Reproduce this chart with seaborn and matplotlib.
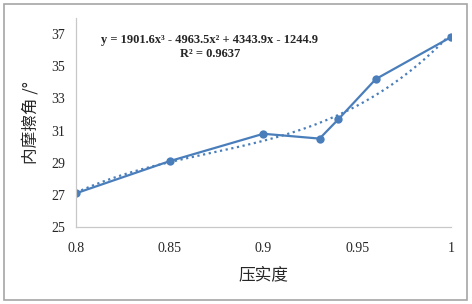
import numpy as np
import pandas as pd
import matplotlib
matplotlib.use("Agg")
import matplotlib.pyplot as plt
import seaborn as sns
from matplotlib.patches import Rectangle

# data
yashidu = [0.80, 0.85, 0.90, 0.93, 0.94, 0.96, 1.00]
neimocajiao = [27.1, 29.1, 30.8, 30.5, 31.7, 34.2, 36.8]
x_ticks = [0.8, 0.85, 0.9, 0.95, 1]
x_ticklabels = ['0.8', '0.85', '0.9', '0.95', '1']
y_ticks = [25, 27, 29, 31, 33, 35, 37]
equation = 'y = 1901.6x³ - 4963.5x² + 4343.9x - 1244.9'
r2_text = 'R² = 0.9637'

sns.set_style("white")
plt.rcParams['font.family'] = ['Liberation Serif', 'Noto Sans CJK SC', 'DejaVu Sans']

df = pd.DataFrame({'压实度': yashidu, '内摩擦角': neimocajiao})
color = '#4A7EBB'

fig = plt.figure(figsize=(4.72, 3.04), dpi=100)
ax = fig.add_axes([0.161, 0.253, 0.794, 0.688])

# trendline (3rd order polynomial fit like Excel)
coef = np.polyfit(df['压实度'], df['内摩擦角'], 3)
xs = np.linspace(0.8, 1.0, 200)
ax.plot(xs, np.polyval(coef, xs), linestyle=(0, (1, 1.6)), color=color, linewidth=1.6)

sns.lineplot(data=df, x='压实度', y='内摩擦角', ax=ax, color=color, linewidth=1.6,
             marker='o', markersize=6, markeredgewidth=0, markeredgecolor=color)

ax.set_xlim(0.8, 1.0)
ax.set_ylim(25, 38)
ax.set_xticks(x_ticks)
ax.set_xticklabels(x_ticklabels)
ax.set_yticks(y_ticks)
ax.tick_params(axis='x', direction='out', length=3, width=0.8, color='#c0c0c0',
               labelsize=10, pad=8)
ax.tick_params(axis='y', length=0, labelsize=10, pad=8)

for s in ['top', 'right']:
    ax.spines[s].set_visible(False)
for s in ['left', 'bottom']:
    ax.spines[s].set_color('#c8c8c8')
    ax.spines[s].set_linewidth(0.9)

ax.set_xlabel('压实度', fontsize=12, family=['Noto Sans CJK SC'], labelpad=8)
ax.set_ylabel('内摩擦角 /°', fontsize=12, family=['Noto Sans CJK SC', 'DejaVu Sans'], labelpad=8)

ax.text(0.357, 0.895, equation, transform=ax.transAxes, ha='center', va='center',
        fontsize=9, fontweight='bold')
ax.text(0.357, 0.828, r2_text, transform=ax.transAxes, ha='center', va='center',
        fontsize=9, fontweight='bold')

fig.patches.append(Rectangle((4 / 472, 4 / 304), 463 / 472, 296 / 304,
                             transform=fig.transFigure, fill=False,
                             edgecolor='#a6a6a6', linewidth=1.2))

fig.savefig('out.png', dpi=100)
